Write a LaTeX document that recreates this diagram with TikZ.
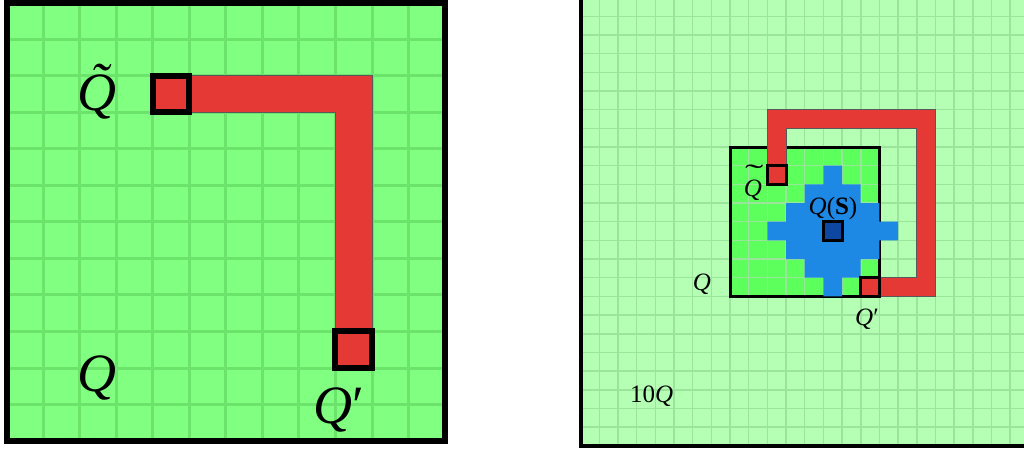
\documentclass[tikz,border=0pt]{standalone}
\usepackage{fontspec}
\setmainfont{Liberation Serif}
\usepackage{graphicx}
\definecolor{gA}{RGB}{128,255,128}
\definecolor{gAline}{RGB}{108,228,108}
\definecolor{gB}{RGB}{180,255,180}
\definecolor{gBline}{RGB}{155,228,155}
\definecolor{gQ}{RGB}{92,255,92}
\definecolor{redbar}{RGB}{229,57,53}
\definecolor{blueS}{RGB}{30,136,229}
\definecolor{blueD}{RGB}{13,71,161}
\newcommand\wideQ{\ooalign{\itshape Q\cr\hidewidth\raisebox{0.5em}{\scalebox{2.2}[1.1]{\char"02DC}}\kern-0.1em\hidewidth\cr}}
\begin{document}
\begin{tikzpicture}[x=1pt,y=-1pt,
  bigcell/.style={fill=redbar,draw=black,line width=6pt},
  smallcell/.style={fill=redbar,draw=black,line width=3pt},
  barstyle/.style={fill=redbar,draw=black!65,line width=0.8pt},
  biglabel/.style={font=\fontsize{54}{54}\selectfont,inner sep=0pt},
  smalllabel/.style={font=\fontsize{25}{25}\selectfont,inner sep=0pt}]
\useasboundingbox (0,0) rectangle (1024,451);
\fill[white] (0,0) rectangle (1024,451);
% ---------- left panel ----------
\begin{scope}[shift={(6.5,2.5)},x=36.55pt,y=-36.55pt]
  \fill[gA] (0,0) rectangle (12,12);
  \foreach \i in {1,...,11} {
    \draw[gAline,line width=3pt] (\i,0) -- (\i,12);
    \draw[gAline,line width=3pt] (0,\i) -- (12,\i);
  }
  \draw[barstyle] (5,2) -- (10,2) -- (10,9) -- (9,9) -- (9,3) -- (5,3) -- cycle;
  \draw[bigcell] (4,2) rectangle (5,3);
  \draw[bigcell] (9,9) rectangle (10,10);
  \draw[black,line width=6pt] (0,0) rectangle (12,12);
\end{scope}
\node[biglabel,anchor=base] (qtL) at (97,110) {\itshape\~{Q}};
\node[biglabel,anchor=base] (qL) at (97,391) {\itshape Q};
\node[biglabel,anchor=base west] (qpL) at (313,423) {{\itshape Q}′};
% ---------- right panel ----------
\begin{scope}
\clip (0,0) rectangle (1024,451);
\begin{scope}[shift={(730,147)},x=18.67pt,y=-18.67pt]
  \fill[gB] (-8,-8) rectangle (16,16);
  \fill[gQ] (0,0) rectangle (8,8);
  \foreach \i in {-7,...,15} {
    \draw[gBline,line width=1.6pt] (\i,-8) -- (\i,16);
    \draw[gBline,line width=1.6pt] (-8,\i) -- (16,\i);
  }
  \draw[black,line width=3pt] (0,0) rectangle (8,8);
  \fill[blueS] (5,1) -- (6,1) -- (6,2) -- (7,2) -- (7,3) -- (8,3) -- (8,4) -- (9,4)
    -- (9,5) -- (8,5) -- (8,6) -- (7,6) -- (7,7) -- (6,7) -- (6,8) -- (5,8)
    -- (5,7) -- (4,7) -- (4,6) -- (3,6) -- (3,5) -- (2,5) -- (2,4) -- (3,4)
    -- (3,3) -- (4,3) -- (4,2) -- (5,2) -- cycle;
  \draw[barstyle] (2,1) -- (2,-2) -- (11,-2) -- (11,8) -- (8,8) -- (8,7) -- (10,7)
    -- (10,-1) -- (3,-1) -- (3,1) -- cycle;
  \draw[smallcell] (2,1) rectangle (3,2);
  \draw[smallcell] (7,7) rectangle (8,8);
  \draw[fill=blueD,draw=black,line width=3pt] (5,4) rectangle (6,5);
  \draw[black,line width=4pt] (-8,-8) rectangle (16,16);
\end{scope}
\end{scope}
\node[smalllabel,anchor=base] (qtR) at (753,196) {\wideQ};
\node[smalllabel,anchor=base] (qR) at (702,290) {\itshape Q};
\node[smalllabel,anchor=base west] (qpR) at (855,325) {{\itshape Q}′};
\node[smalllabel,anchor=base west] (tenQ) at (630,402) {10{\itshape Q}};
\node[smalllabel,anchor=base] (qS) at (833,214) {{\itshape Q}(\textbf{S})};
\end{tikzpicture}
\end{document}
